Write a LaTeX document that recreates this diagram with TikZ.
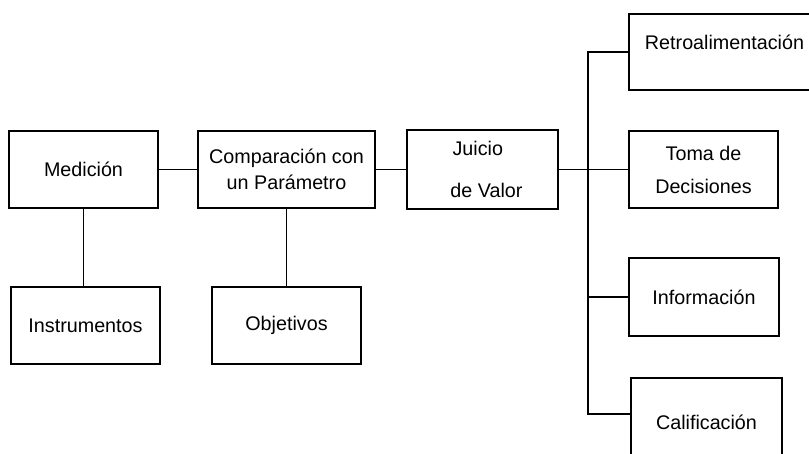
\documentclass[tikz,border=0pt]{standalone}
\usepackage{fontspec}
\setmainfont{Liberation Sans}
\begin{document}
\begin{tikzpicture}[x=0.75pt,y=-0.75pt,
  box/.style={draw=black, line width=1.2pt, rectangle, inner sep=0pt, align=center,
    font=\fontsize{14.8}{17.8}\selectfont},
  link/.style={draw=black, line width=1.2pt}]
\useasboundingbox (0,0) rectangle (809,453);
\clip (0,0) rectangle (809,453);
\node[box, minimum width=111.75pt, minimum height=57.75pt] (med) at (83.5,169.5) {Medición};
\node[box, minimum width=132.75pt, minimum height=57.75pt] (comp) at (286.5,169.5) {Comparación con\\[2pt]un Parámetro};
\node[box, minimum width=113.25pt, minimum height=59.25pt] (juicio) at (482.5,169.5) {Juicio\hspace*{7pt}\\[14pt]\hspace*{6pt}de Valor};
\node[box, minimum width=143.25pt, minimum height=57pt, text depth=14pt] (retro) at (724.5,52) {Retroalimentación};
\node[box, minimum width=111.75pt, minimum height=57.75pt] (toma) at (703.5,169.5) {Toma de\\[7pt]Decisiones};
\node[box, minimum width=112.5pt, minimum height=58.5pt] (info) at (704,297) {Información};
\node[box, minimum width=113.25pt, minimum height=69pt, text depth=3pt] (calif) at (706.5,424) {Calificación};
\node[box, minimum width=111.75pt, minimum height=57.75pt] (instr) at (85.5,325.5) {Instrumentos};
\node[box, minimum width=111.75pt, minimum height=57.75pt] (obj) at (286.5,325.5) {Objetivos};
\coordinate (tb) at (588,414);
\draw[link] (med.east) -- (comp.west);
\draw[link] (comp.east) -- (juicio.west);
\draw[link] (juicio.east) -- (toma.west);
\draw[link] (med.south) -- (med.south |- instr.north);
\draw[link] (comp.south) -- (comp.south |- obj.north);
\draw[link] (retro.west) -| (tb) -- (tb -| calif.west);
\draw[link] (info.west) -- (info.west -| tb);
\end{tikzpicture}
\end{document}
